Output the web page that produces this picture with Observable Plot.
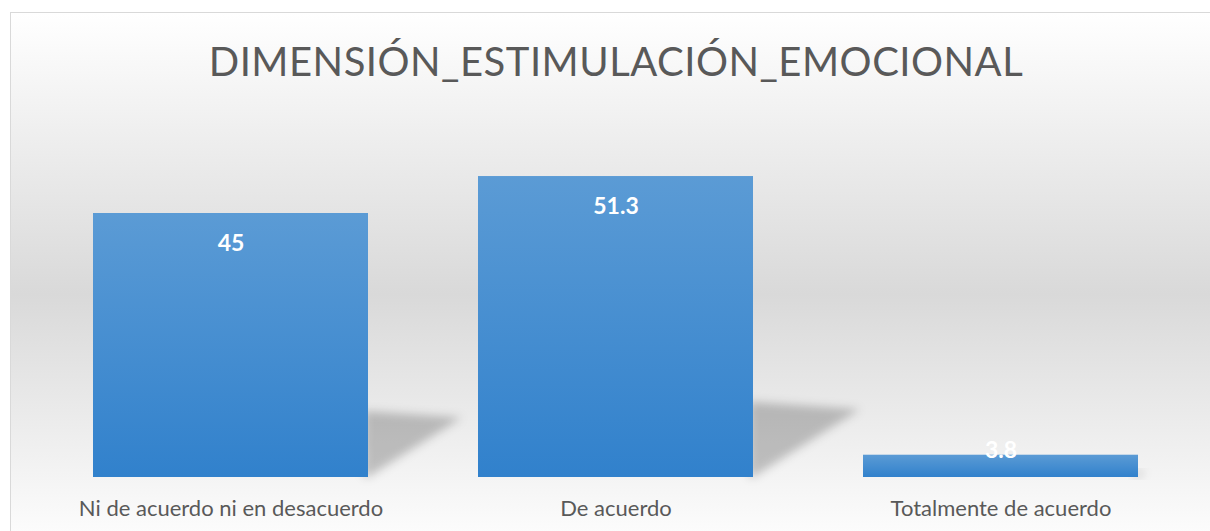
<!DOCTYPE html>
<html>
<head>
<meta charset="utf-8">
<script src="https://cdn.jsdelivr.net/npm/d3@7"></script>
<script src="https://cdn.jsdelivr.net/npm/@observablehq/plot@0.6"></script>
<style>
  body { margin: 0; background: #ffffff; }
  #wrap { position: relative; width: 1210px; height: 531px; overflow: hidden; background: #ffffff; }
  #frame { position: absolute; left: 10px; top: 12px; width: 1220px; height: 530px;
    border-top: 1px solid #d9d9d9; border-left: 1px solid #d9d9d9;
    background: linear-gradient(to bottom, #ffffff 0%, #d9d9d9 53%, #fcfcfc 98%); }
  #title { position: absolute; left: 0; top: 41px; width: 1232px; text-align: center;
    font-family: Lato, "Open Sans", sans-serif; font-weight: 400; font-size: 40px; line-height: 40px;
    letter-spacing: 0.5px; color: #595959; white-space: nowrap; }
  #chart { position: absolute; left: 0; top: 120px; }
</style>
</head>
<body>
<div id="wrap">
  <div id="frame"></div>
  <div id="title">DIMENSIÓN_ESTIMULACIÓN_EMOCIONAL</div>
  <div id="chart"></div>
</div>
<script>
const categories = ["Ni de acuerdo ni en desacuerdo", "De acuerdo", "Totalmente de acuerdo"];
const values = [45, 51.3, 3.8];
const valueLabels = ["45", "51.3", "3.8"];

const data = categories.map((c, i) => ({category: c, value: values[i], label: valueLabels[i]}));

// Decorative layer: gradient definition + perspective shadows derived from the scales
function shadowLayer(index, scales) {
  const g = d3.create("svg:g");
  const defs = g.append("defs");
  const grad = defs.append("linearGradient").attr("id", "barGrad")
    .attr("x1", 0).attr("y1", 0).attr("x2", 0).attr("y2", 1);
  grad.append("stop").attr("offset", "0%").attr("stop-color", "#5b9bd5");
  grad.append("stop").attr("offset", "100%").attr("stop-color", "#3181cc");
  const f = defs.append("filter").attr("id", "shadowBlur")
    .attr("x", "-50%").attr("y", "-50%").attr("width", "200%").attr("height", "200%");
  f.append("feGaussianBlur").attr("stdDeviation", 5);
  const x = scales.x, y = scales.y;
  const bw = x.bandwidth();
  const y0 = y(0);
  for (const d of data) {
    const xr = x(d.category) + bw;
    const h = y0 - y(d.value);
    const pts = [
      [xr - 4, y0],
      [xr - 4, y0 - 0.25 * h],
      [xr + 0.355 * h, y0 - 0.225 * h],
      [xr, y0]
    ];
    g.append("path")
      .attr("d", "M" + pts.map(p => p.join(",")).join("L") + "Z")
      .attr("fill", "#000")
      .attr("fill-opacity", 0.22)
      .attr("filter", "url(#shadowBlur)");
  }
  return g.node();
}

const chart = Plot.plot({
  width: 1210,
  height: 411,
  marginLeft: 38,
  marginRight: 17,
  marginTop: 5,
  marginBottom: 54,
  style: { background: "transparent", overflow: "visible" },
  x: { domain: categories, paddingInner: 0.2857, paddingOuter: 0.1428, axis: null },
  y: { domain: [0, 60], axis: null },
  marks: [
    shadowLayer,
    Plot.barY(data, { x: "category", y: "value", fill: "url(#barGrad)" }),
    Plot.text(data.filter(d => d.value >= 10), {
      x: "category", y: "value", text: "label", dy: 30,
      fill: "#ffffff", fontWeight: "bold", fontSize: 23, fontFamily: "Lato, 'Open Sans', sans-serif"
    }),
    Plot.text(data.filter(d => d.value < 10), {
      x: "category", y: "value", text: "label", dy: -5,
      fill: "#ffffff", fontWeight: "bold", fontSize: 23, fontFamily: "Lato, 'Open Sans', sans-serif"
    }),
    Plot.axisX({
      tickSize: 0, tickPadding: 23, fontSize: 22, label: null,
      fill: "#595959", fontFamily: "Lato, 'Open Sans', sans-serif"
    })
  ]
});

document.getElementById("chart").appendChild(chart);
</script>
</body>
</html>
